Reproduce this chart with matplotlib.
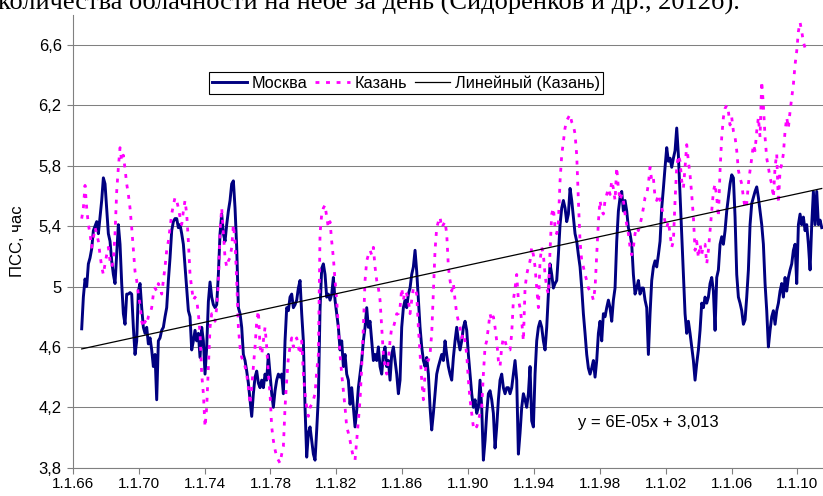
import numpy as np
import matplotlib
matplotlib.use("Agg")
import matplotlib.pyplot as plt

# Sunshine duration (hours), regular samples about every 37 days
sample_start_year = 1966.54
sample_step_years = 0.1012

moscow = [
    4.72, 4.93, 5.05, 5.00, 5.15, 5.19, 5.25, 5.37, 5.40, 5.43,
    5.35, 5.46, 5.57, 5.72, 5.68, 5.52, 5.35, 5.30, 5.17, 5.08,
    5.02, 5.21, 5.41, 5.28, 5.02, 4.82, 4.75, 4.95, 4.95, 4.96,
    4.95, 4.73, 4.55, 4.64, 4.97, 5.02, 4.86, 4.73, 4.69, 4.73,
    4.62, 4.66, 4.58, 4.47, 4.55, 4.25, 4.64, 4.66, 4.71, 4.73,
    4.80, 4.86, 5.04, 5.19, 5.37, 5.43, 5.45, 5.45, 5.39, 5.41,
    5.35, 5.28, 5.13, 4.97, 4.84, 4.80, 4.58, 4.64,
    4.71, 4.64, 4.69, 4.53, 4.73, 4.64, 4.42, 4.60, 4.90, 5.03,
    4.93, 4.88, 4.86, 4.88, 5.08, 5.35, 5.48, 5.35, 5.30, 5.41,
    5.50, 5.57, 5.68, 5.70, 5.52, 5.26, 4.86, 4.82, 4.73, 4.55,
    4.51, 4.44, 4.36, 4.25, 4.14, 4.29, 4.40, 4.44, 4.36, 4.33,
    4.38, 4.33, 4.42, 4.38, 4.55, 4.42, 4.29, 4.20, 4.31, 4.38,
    4.42, 4.40, 4.42, 4.29, 4.64, 4.86, 4.84, 4.93, 4.95, 4.86,
    4.88, 4.91, 4.99, 5.04, 4.82, 4.64, 4.20, 3.87, 4.03, 4.07,
    3.98, 3.89, 3.85, 4.05, 4.27,
    4.85, 5.12, 5.15, 5.08, 4.93, 4.95, 4.91, 4.95, 5.06, 4.91,
    4.82, 4.73, 4.58, 4.64, 4.47, 4.55, 4.42, 4.38, 4.22, 4.33,
    4.20, 4.07, 4.18, 4.33, 4.42, 4.51, 4.64, 4.73, 4.86, 4.73,
    4.77, 4.64, 4.51, 4.55, 4.51, 4.60, 4.47, 4.42, 4.55, 4.60,
    4.47, 4.51, 4.38, 4.55, 4.60, 4.51, 4.42, 4.29, 4.38, 4.73,
    4.86, 4.91, 4.86, 4.95, 4.99, 5.08, 5.13, 5.24, 5.10, 4.91,
    4.73, 4.60, 4.51, 4.47, 4.53, 4.42, 4.20, 4.05, 4.16, 4.29,
    4.42, 4.47, 4.51, 4.55, 4.51,
    4.64, 4.55, 4.47, 4.42, 4.38, 4.53, 4.64, 4.73, 4.64, 4.58,
    4.64, 4.73, 4.77, 4.71, 4.55, 4.42, 4.29, 4.20, 4.25, 4.16,
    4.20, 4.38, 4.20, 3.85, 3.98, 4.16, 4.29, 4.31, 4.25, 4.16,
    3.93, 4.07, 4.25, 4.38, 4.42, 4.33, 4.29, 4.33, 4.33, 4.29,
    4.33, 4.42, 4.51, 4.38, 3.89, 4.03, 4.20, 4.29, 4.25, 4.20,
    4.29, 4.47, 4.11, 4.07, 4.42, 4.64, 4.73, 4.77, 4.73, 4.64,
    4.58, 4.73, 4.95, 5.15, 5.08, 4.99, 5.02, 5.04, 5.21, 5.41,
    5.52, 5.57, 5.52, 5.43, 5.48,
    5.65, 5.57, 5.46, 5.35, 5.30, 5.21, 5.13, 4.99, 4.82, 4.69,
    4.55, 4.46, 4.42, 4.46, 4.51, 4.40, 4.51, 4.69, 4.77, 4.64,
    4.82, 4.80, 4.86, 4.91, 4.86, 4.77, 4.91, 4.99, 5.30, 5.50,
    5.59, 5.63, 5.50, 5.57, 5.50, 5.39, 5.35, 5.28, 5.08, 4.95,
    4.99, 5.04, 4.95, 4.99, 4.99, 4.91, 4.86, 4.55, 4.82, 5.04,
    5.13, 5.17, 5.13, 5.21, 5.30, 5.52, 5.65, 5.79, 5.92, 5.83,
    5.85, 5.79, 5.85, 5.90, 6.05, 5.87, 5.61, 5.35, 5.08, 4.82,
    4.69, 4.77, 4.69, 4.60, 4.51,
    4.38, 4.49, 4.58, 4.71, 4.89, 4.86, 4.93, 4.89, 4.93, 5.02,
    5.06, 4.97, 4.71, 5.06, 5.11, 5.28, 5.33, 5.28, 5.37, 5.50,
    5.59, 5.68, 5.74, 5.72, 5.46, 5.08, 4.93, 4.89, 4.84, 4.75,
    4.78, 4.93, 5.11, 5.41, 5.55, 5.59, 5.63, 5.66, 5.59, 5.50,
    5.41, 5.28, 5.02, 4.84, 4.60, 4.71, 4.80, 4.84, 4.75, 4.84,
    4.89, 4.97, 5.02, 4.93, 5.06, 4.97, 5.06, 5.11, 5.15, 5.24,
    5.28, 5.02, 5.41, 5.48, 5.41, 5.46, 5.37, 5.41, 5.28, 5.11,
    5.41, 5.63, 5.41, 5.63, 5.41, 5.44, 5.39,
]

kazan = [
    5.45, 5.52, 5.67, 5.52, 5.41, 5.35, 5.26, 5.32, 5.39, 5.35,
    5.30, 5.21, 5.13, 5.08, 5.15, 5.21, 5.26, 5.17, 5.13, 5.17,
    5.35, 5.63, 5.79, 5.92, 5.83, 5.87, 5.78, 5.68, 5.61, 5.52,
    5.39, 5.24, 5.10, 5.04, 4.95, 4.88, 4.77, 4.73, 4.77, 4.75,
    4.80, 4.82, 4.86, 4.95, 4.99, 4.97, 5.02, 4.99, 4.95, 5.04,
    5.13, 5.24, 5.30, 5.39, 5.48, 5.54, 5.59, 5.57, 5.52, 5.46,
    5.41, 5.50, 5.57, 5.48, 5.30, 5.08, 4.99, 4.91,
    4.93, 4.91, 4.82, 4.69, 4.42, 4.29, 4.07, 4.20, 4.47, 4.73,
    4.82, 4.80, 4.77, 4.86, 5.02, 5.37, 5.52, 5.35, 5.19, 5.13,
    5.17, 5.19, 5.26, 5.41, 5.30, 5.04, 4.73, 4.60, 4.53, 4.51,
    4.47, 4.42, 4.33, 4.22, 4.33, 4.47, 4.60, 4.77, 4.84, 4.60,
    4.55, 4.64, 4.73, 4.60, 4.42, 4.29, 4.07, 3.98, 3.92, 3.87,
    3.85, 3.83, 3.89, 3.94, 4.20, 4.38, 4.53, 4.60, 4.66, 4.60,
    4.64, 4.66, 4.60, 4.55, 4.64, 4.42, 4.29, 4.20, 4.14, 4.20,
    4.22, 4.25, 4.29, 4.44, 4.55,
    5.35, 5.48, 5.52, 5.54, 5.46, 5.39, 5.43, 5.30, 5.19, 5.04,
    4.91, 4.73, 4.55, 4.42, 4.31, 4.20, 4.07, 4.03, 3.98, 3.92,
    3.87, 3.85, 3.98, 4.11, 4.25, 4.47, 4.73, 5.04, 5.17, 5.21,
    5.24, 5.21, 5.26, 5.13, 5.04, 4.99, 4.91, 4.73, 4.55, 4.47,
    4.42, 4.51, 4.64, 4.73, 4.73, 4.77, 4.82, 4.82, 4.86, 4.99,
    4.91, 4.97, 4.95, 4.91, 4.82, 4.91, 4.99, 4.99, 4.95, 4.73,
    4.55, 4.38, 4.25, 4.42, 4.51, 4.51, 4.55, 4.69, 4.97, 5.24,
    5.39, 5.43, 5.46, 5.39, 5.41,
    5.43, 5.35, 5.13, 5.04, 4.97, 5.02, 4.91, 4.82, 4.77, 4.73,
    4.66, 4.69, 4.64, 4.55, 4.38, 4.25, 4.16, 4.07, 4.09, 4.07,
    4.11, 4.16, 4.20, 4.42, 4.60, 4.64, 4.73, 4.82, 4.77, 4.80,
    4.73, 4.64, 4.51, 4.47, 4.60, 4.66, 4.64, 4.60, 4.58, 4.58,
    4.69, 4.91, 4.99, 5.08, 4.91, 4.86, 4.77, 4.64, 4.99, 5.08,
    5.13, 5.17, 5.26, 5.21, 5.13, 4.99, 4.86, 5.17, 5.26, 5.21,
    5.08, 4.99, 4.95, 5.24, 5.48, 5.52, 5.39, 5.35, 5.43, 5.70,
    5.87, 5.96, 6.05, 6.10, 6.12,
    6.14, 6.09, 6.07, 6.01, 5.87, 5.57, 5.30, 5.17, 5.13, 5.08,
    5.04, 4.99, 4.97, 4.95, 4.91, 4.99, 5.21, 5.43, 5.57, 5.50,
    5.48, 5.57, 5.61, 5.65, 5.61, 5.70, 5.65, 5.57, 5.79, 5.65,
    5.57, 5.61, 5.57, 5.48, 5.41, 5.35, 5.26, 5.21, 5.26, 5.35,
    5.39, 5.37, 5.41, 5.46, 5.52, 5.59, 5.61, 5.68, 5.79, 5.70,
    5.72, 5.59, 5.57, 5.61, 5.57, 5.52, 5.48, 5.43, 5.39, 5.43,
    5.35, 5.26, 5.30, 5.57, 5.79, 5.87, 5.83, 5.70, 5.65, 5.79,
    5.94, 5.83, 5.74, 5.61, 5.46,
    5.24, 5.30, 5.19, 5.28, 5.21, 5.28, 5.28, 5.15, 5.24, 5.37,
    5.50, 5.63, 5.68, 5.59, 5.46, 5.77, 5.99, 6.12, 6.18, 6.20,
    6.16, 6.07, 6.12, 6.03, 5.99, 5.90, 5.77, 5.72, 5.68, 5.59,
    5.52, 5.55, 5.68, 5.77, 5.85, 5.94, 5.90, 6.03, 6.12, 5.99,
    6.36, 6.20, 5.99, 5.85, 5.79, 5.72, 5.68, 5.59, 5.79, 5.88,
    5.55, 5.77, 5.81, 5.88, 6.03, 6.12, 6.05, 6.16, 6.25, 6.34,
    6.47, 6.56, 6.69, 6.75, 6.69, 6.62, 6.58,
]

# Linear trend of the Kazan series, x = spreadsheet date serial (days)
trend_slope = 6.475e-5
trend_intercept = 3.013

tick_years = list(range(1966, 2011, 4))
tick_labels = ["1.1.%02d" % (y % 100) for y in tick_years]
y_ticks = [3.8, 4.2, 4.6, 5.0, 5.4, 5.8, 6.2, 6.6]
y_tick_labels = ["3,8", "4,2", "4,6", "5", "5,4", "5,8", "6,2", "6,6"]

series_names = ["Москва", "Казань", "Линейный (Казань)"]
y_label = "ПСС, час"
caption = "количества облачности на небе за день (Сидоренков и др., 2012б)."

moscow_years = sample_start_year + sample_step_years * np.arange(len(moscow))
kazan_years = sample_start_year + sample_step_years * np.arange(len(kazan))


def date_serial(year):
    return (np.asarray(year) - 1900.0) * 365.25 + 1.5


trend_years = np.array([moscow_years[0], moscow_years[-1]])
trend_values = trend_slope * date_serial(trend_years) + trend_intercept
equation = "y = %sx + %s" % (format(trend_slope, ".0E"),
                              ("%.3f" % trend_intercept).replace(".", ","))

plt.rcParams["font.family"] = ["Liberation Sans", "DejaVu Sans"]

W, H = 823, 496
fig = plt.figure(figsize=(W / 100, H / 100), dpi=100)
fig.patch.set_facecolor("white")

ax_left, ax_right, ax_bottom, ax_top = 72.8, 823.0, 467.7, 14.8
ax = fig.add_axes([ax_left / W, 1 - ax_bottom / H,
                   (ax_right - ax_left) / W, (ax_bottom - ax_top) / H])

ax.plot(moscow_years, moscow, color="#000080", lw=2.1, zorder=3,
        solid_joinstyle="round", label=series_names[0])
ax.plot(kazan_years, kazan, color="#FF00FF", lw=2.0, zorder=4,
        linestyle=(0, (1.4, 2.4)), label=series_names[1])
ax.plot(trend_years, trend_values, color="black", lw=0.9, zorder=5,
        label=series_names[2])

ax.set_xlim(1966, 2011.55)
ax.set_ylim(3.8, 6.8)
ax.set_xticks(tick_years)
ax.set_xticklabels(tick_labels, fontsize=11)
ax.set_yticks(y_ticks)
ax.set_yticklabels(y_tick_labels, fontsize=12)

ax.yaxis.grid(True, color="#808080", lw=0.75)
ax.set_axisbelow(True)
for side in ("top", "right"):
    ax.spines[side].set_visible(False)
for side in ("left", "bottom"):
    ax.spines[side].set_color("#808080")
    ax.spines[side].set_linewidth(0.8)
ax.tick_params(axis="both", direction="out", length=4, width=0.8,
               color="#808080", labelcolor="black")
ax.tick_params(axis="y", pad=4)
ax.tick_params(axis="x", pad=3)

leg = ax.legend(loc="upper left", bbox_to_anchor=((209 - ax_left) / (ax_right - ax_left),
                                                  (ax_bottom - 72) / (ax_bottom - ax_top)),
                borderaxespad=0, ncol=3, fontsize=11.7, frameon=True, fancybox=False,
                framealpha=1, edgecolor="black", borderpad=0.2, handlelength=2.15,
                handletextpad=0.3, columnspacing=0.45)
leg.get_frame().set_linewidth(0.8)

ax.text((648 - ax_left) / (ax_right - ax_left), (ax_bottom - 422) / (ax_bottom - ax_top),
        equation, transform=ax.transAxes, ha="center", va="center", fontsize=12)

fig.text(18 / W, 1 - 241 / H, y_label, rotation=90, ha="center", va="center", fontsize=12)
fig.text(-0.002, 1 - 9 / H, caption, ha="left", va="baseline", fontsize=19,
         family=["Liberation Serif", "DejaVu Serif"])

fig.savefig("out.png", dpi=100, facecolor="white")
